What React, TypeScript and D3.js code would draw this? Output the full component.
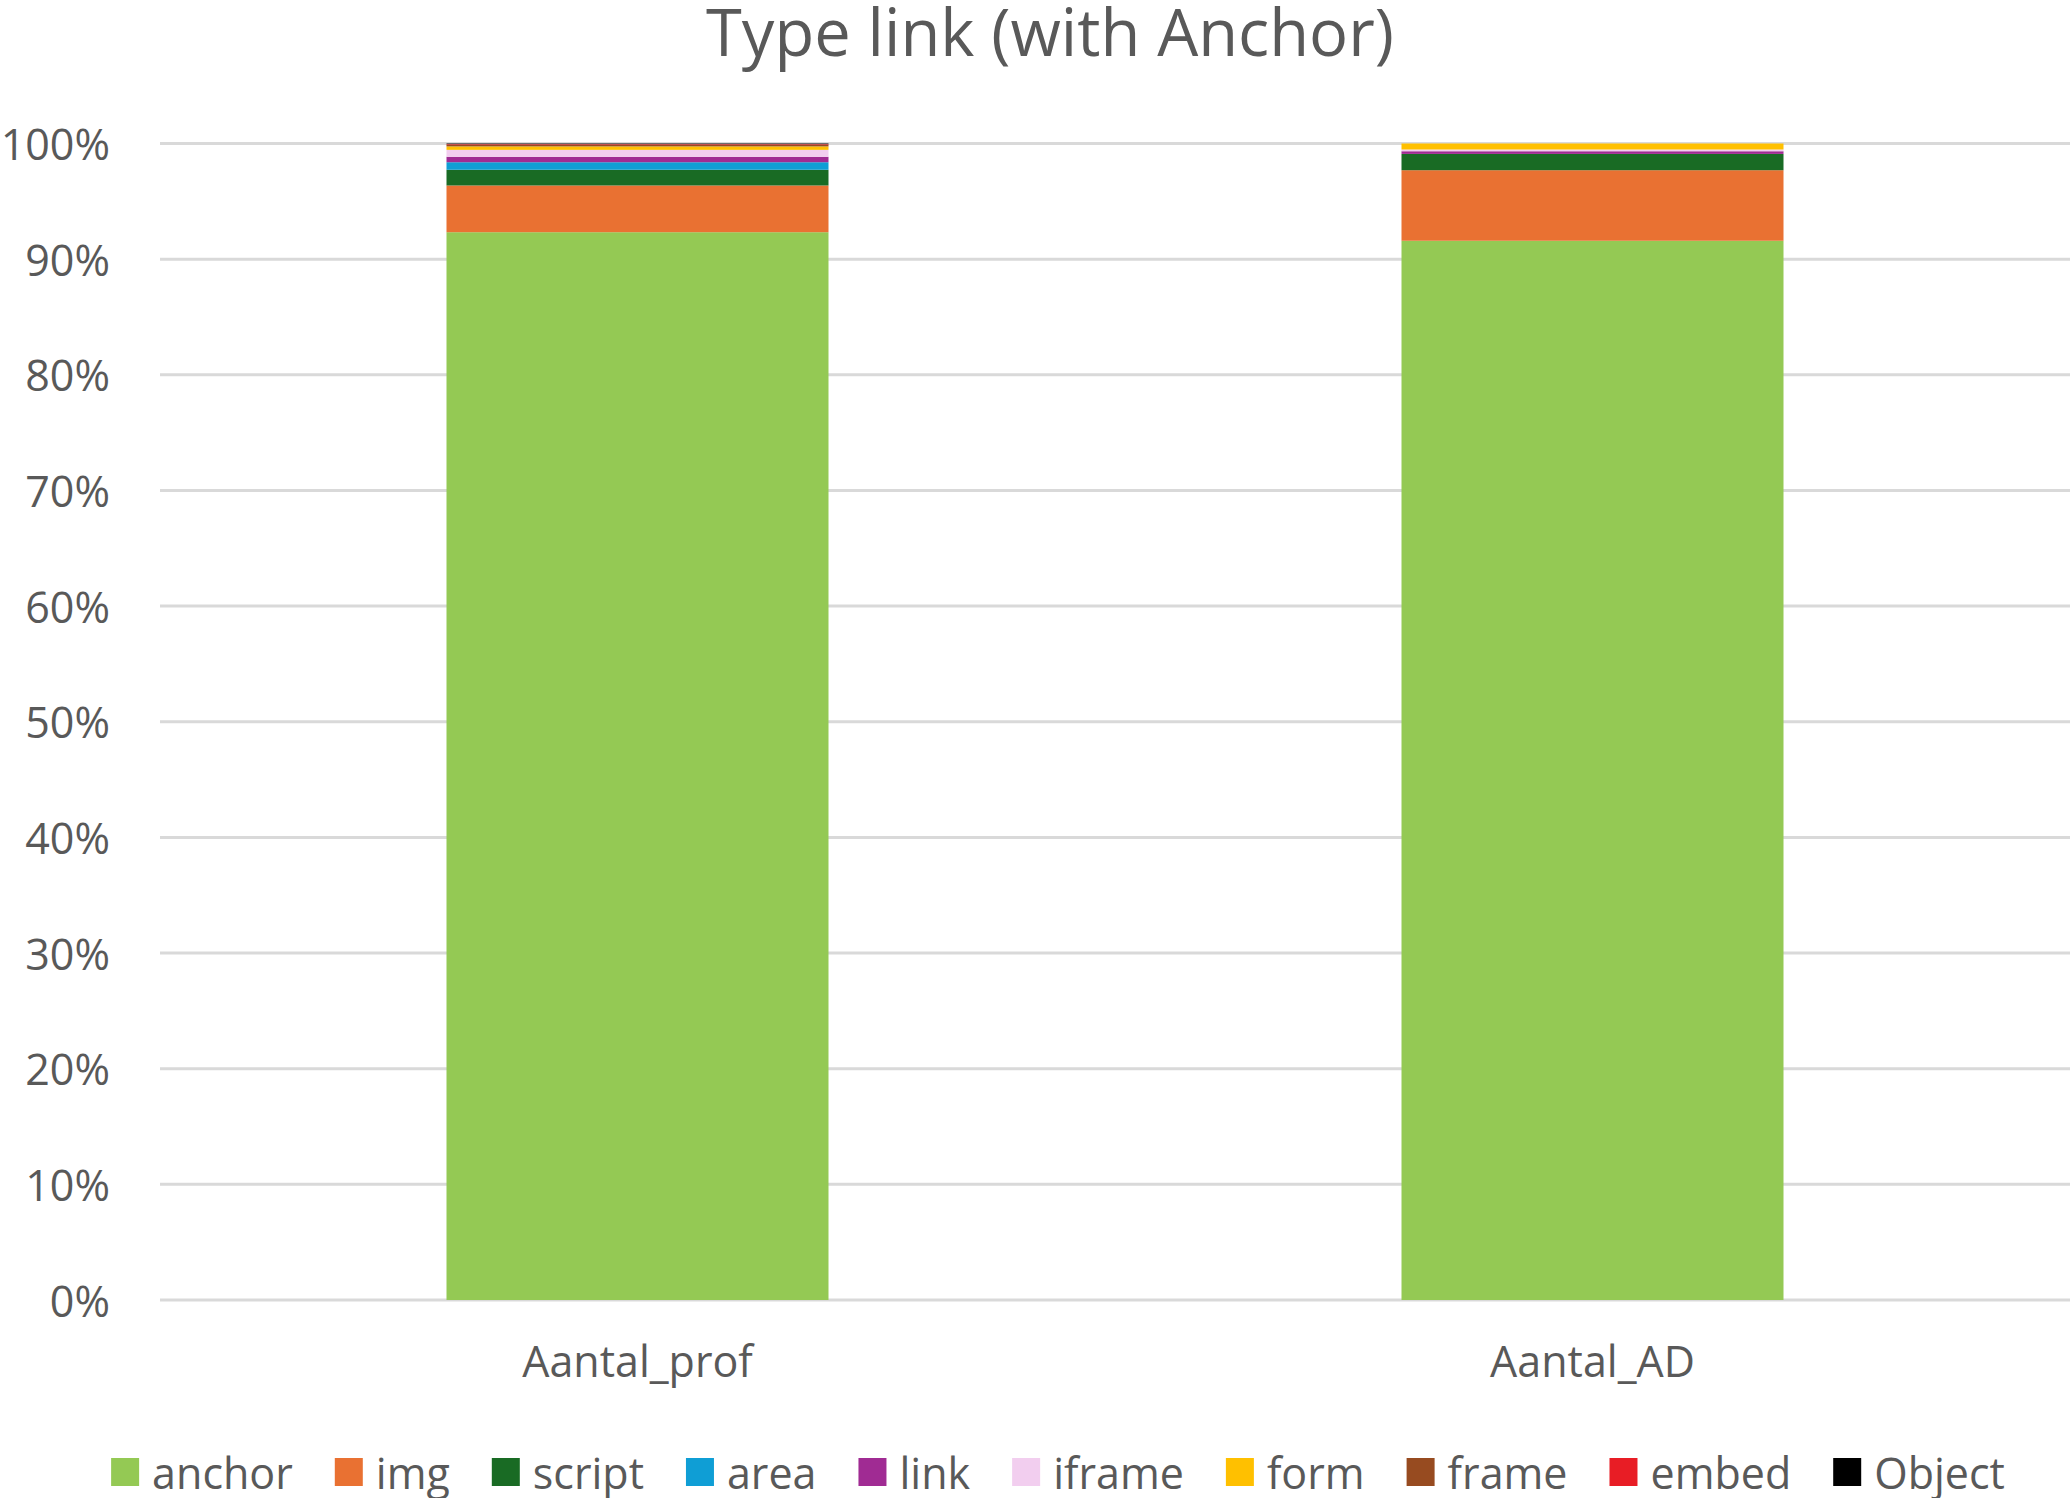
import * as d3 from 'd3';
import React from 'react';

// categories on the x axis
const categories = ['Aantal_prof', 'Aantal_AD'];

// link types, bottom to top of each stack
const keys = ['anchor', 'img', 'script', 'area', 'link', 'iframe', 'form', 'frame', 'embed', 'Object'];

// share (%) per link type, same order as keys
const profValues = [92.33, 4.04, 1.36, 0.65, 0.47, 0.6, 0.3, 0.15, 0.05, 0.05];
const adValues = [91.6, 6.1, 1.41, 0, 0.23, 0.15, 0.52, 0, 0, 0];

const colors = ['#94C954', '#E97132', '#196B24', '#0F9ED5', '#A02B93', '#F2CEEF', '#FFC000', '#974B20', '#E81D25', '#000000'];

const yTicks = [0, 0.1, 0.2, 0.3, 0.4, 0.5, 0.6, 0.7, 0.8, 0.9, 1];

const title = 'Type link (with Anchor)';

const width = 2070;
const height = 1498;
const marginLeft = 160;
const marginRight = 0;
const marginTop = 143.5;
const marginBottom = 198;

const font = '"Open Sans", sans-serif';
const textColor = '#595959';

type Row = { category: string } & Record<string, number | string>;

const rows: Row[] = categories.map((c, i) => {
    const vals = i === 0 ? profValues : adValues;
    const r: Row = { category: c };
    keys.forEach((k, j) => (r[k] = vals[j]));
    return r;
});

// measure legend text so the items can be laid out like Excel does
const measure = (text: string, size: number) => {
    const ctx = document.createElement('canvas').getContext('2d');
    if (!ctx) return text.length * size * 0.5;
    ctx.font = `${size}px ${font}`;
    return ctx.measureText(text).width;
};

const App: React.FC = () => {
    const x = d3
        .scaleBand<string>()
        .domain(categories)
        .range([marginLeft, width - marginRight])
        .paddingInner(0.6)
        .paddingOuter(0.3);

    const y = d3
        .scaleLinear()
        .domain([0, 1])
        .range([height - marginBottom, marginTop]);

    const series = d3
        .stack<Row>()
        .keys(keys)
        .value((d, k) => d[k] as number)
        .offset(d3.stackOffsetExpand)(rows);

    const color = d3.scaleOrdinal<string, string>().domain(keys).range(colors);

    // legend layout
    const legendSize = 43;
    const swatch = 28;
    const swatchGap = 13;
    const itemGap = 42;
    const widths = keys.map((k) => swatch + swatchGap + measure(k, legendSize));
    const total = d3.sum(widths) + itemGap * (keys.length - 1);
    let cursor = 1058 - total / 2;
    const legendX = widths.map((w) => {
        const p = cursor;
        cursor += w + itemGap;
        return p;
    });
    const legendY = 1472;

    return (
        <svg
            width={width}
            height={height}
            style={{ position: 'absolute', left: 0, top: 0, background: '#fff' }}
            fontFamily={font}
        >
            <text x={1050} y={56} textAnchor="middle" fontSize={65} fill={textColor}>
                {title}
            </text>

            <g>
                {yTicks.map((t) => (
                    <g key={t}>
                        <line
                            x1={marginLeft}
                            x2={width - marginRight}
                            y1={y(t)}
                            y2={y(t)}
                            stroke="#d9d9d9"
                            strokeWidth={3}
                        />
                        <text
                            x={110}
                            y={y(t)}
                            textAnchor="end"
                            dominantBaseline="central"
                            fontSize={43}
                            fill={textColor}
                        >
                            {d3.format('.0%')(t)}
                        </text>
                    </g>
                ))}
            </g>

            <g>
                {series.map((s) => (
                    <g key={s.key} fill={color(s.key)}>
                        {s.map((d) => (
                            <rect
                                key={d.data.category}
                                x={x(d.data.category)}
                                y={y(d[1])}
                                width={x.bandwidth()}
                                height={Math.max(0, y(d[0]) - y(d[1]))}
                            />
                        ))}
                    </g>
                ))}
            </g>

            <g>
                {categories.map((c) => (
                    <text
                        key={c}
                        x={(x(c) ?? 0) + x.bandwidth() / 2}
                        y={1377}
                        textAnchor="middle"
                        fontSize={43}
                        fill={textColor}
                    >
                        {c}
                    </text>
                ))}
            </g>

            <g>
                {keys.map((k, i) => (
                    <g key={k} transform={`translate(${legendX[i]},${legendY})`}>
                        <rect x={0} y={-swatch / 2} width={swatch} height={swatch} fill={color(k)} />
                        <text
                            x={swatch + swatchGap}
                            y={0}
                            dominantBaseline="central"
                            fontSize={legendSize}
                            fill={textColor}
                        >
                            {k}
                        </text>
                    </g>
                ))}
            </g>
        </svg>
    );
};

export default App;
